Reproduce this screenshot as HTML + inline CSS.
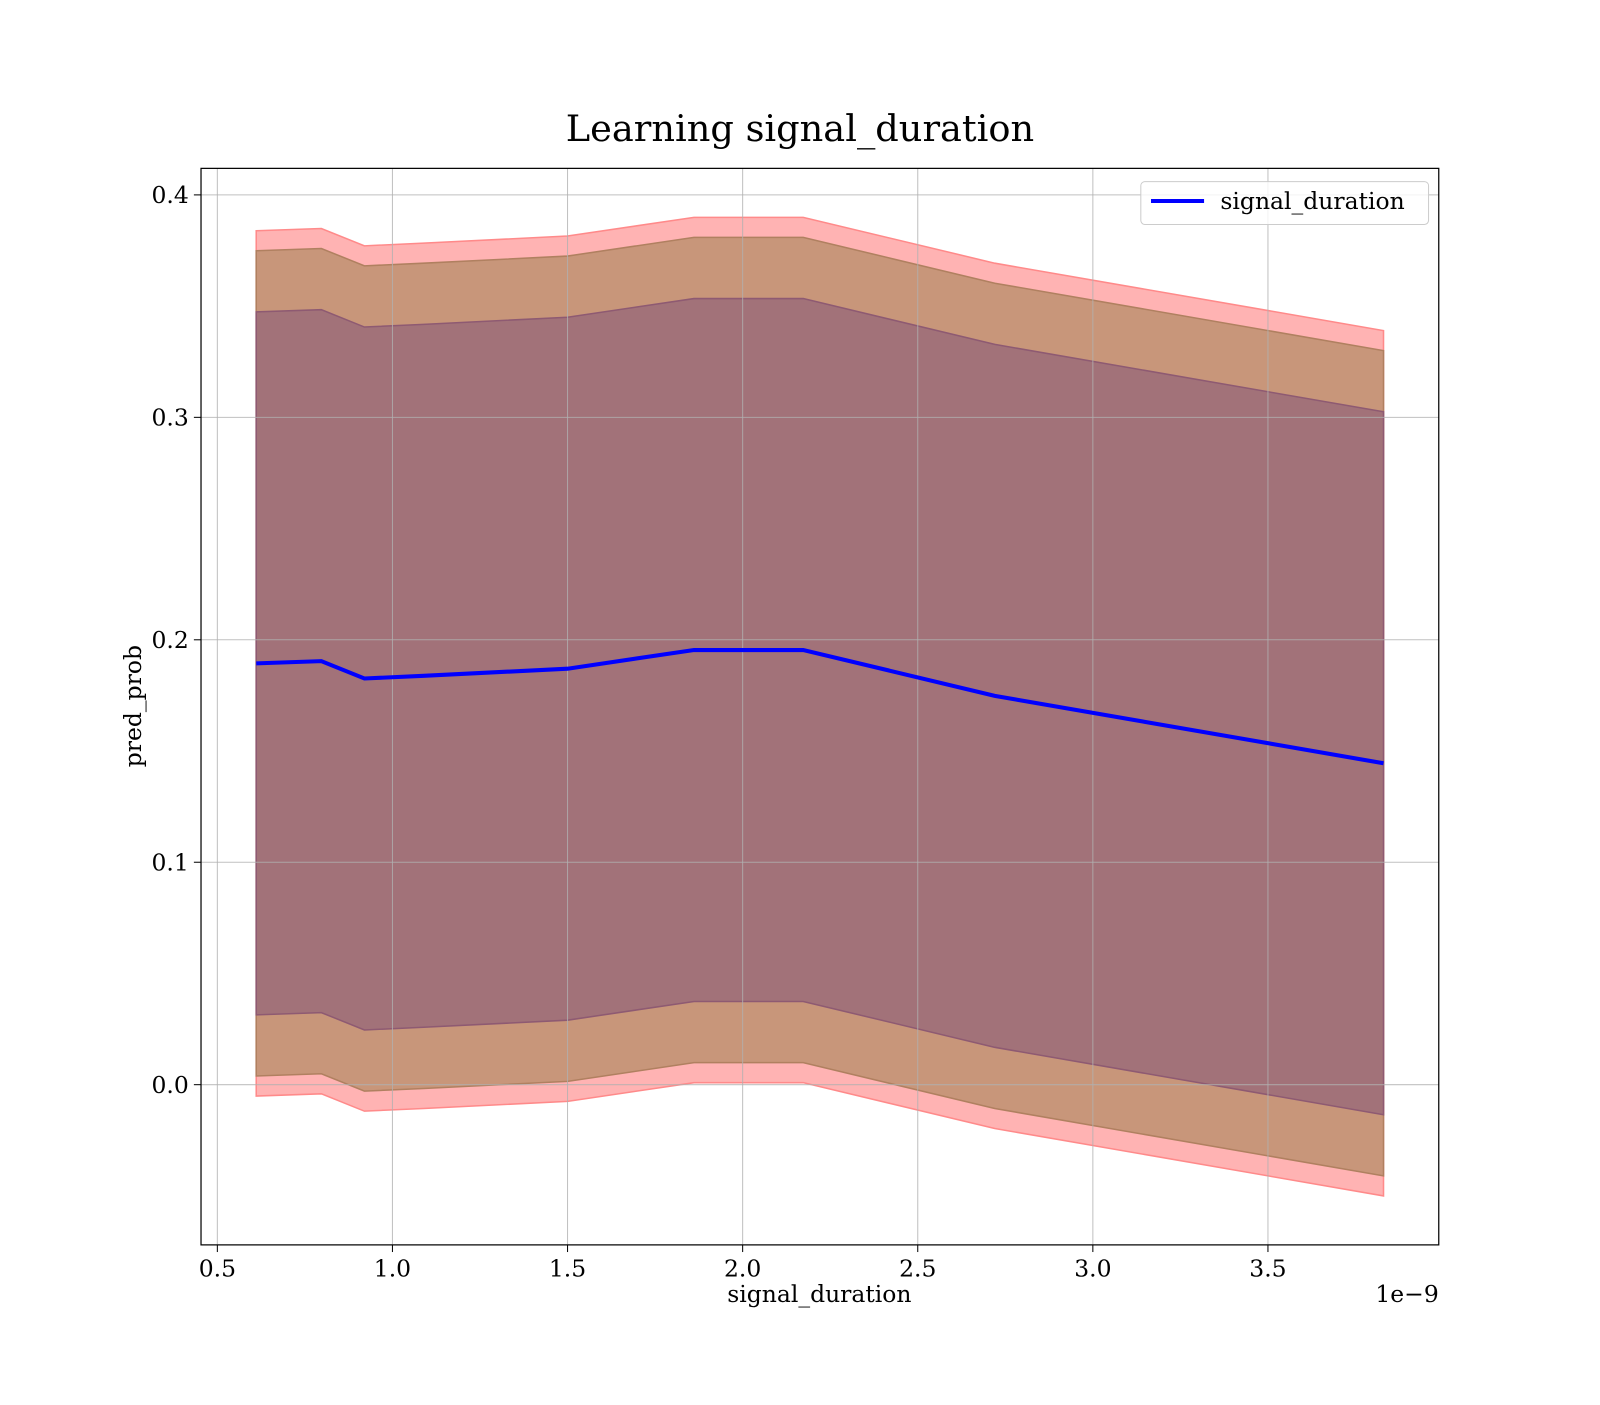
<!DOCTYPE html>
<html><head><meta charset="utf-8"><style>
body{margin:0;background:#fff;}
svg text{font-family:"DejaVu Serif","Liberation Serif",serif;fill:#000;}
</style></head><body>
<svg id="chart" width="1600" height="1400" xmlns="http://www.w3.org/2000/svg">
<g transform="scale(1.0204)">
<text x="784" y="138" font-size="36" text-anchor="middle">Learning signal_duration</text>
<g id="plot"></g>
</g>
</svg>
<script>
const xs = [0.611, 0.797, 0.920, 1.089, 1.50, 1.861, 2.173, 2.72, 3.83];
const means = [0.1894, 0.1904, 0.1826, 0.1838, 0.187, 0.1954, 0.1954, 0.1748, 0.1445];
const bandHalf = [0.1945, 0.1855, 0.158];
const xTicks = [0.5, 1.0, 1.5, 2.0, 2.5, 3.0, 3.5];
const yTicks = [0.0, 0.1, 0.2, 0.3, 0.4];

const L=197,R=1410,T=165,B=1220;
const X=v=>213+(v-0.5)*343.2;
const Y=v=>1063-v*2180;
const NS="http://www.w3.org/2000/svg";
const g=document.getElementById('plot');
function mk(t,a){const e=document.createElementNS(NS,t);for(const k in a)e.setAttribute(k,a[k]);g.appendChild(e);return e;}

const fills=[['#ffb3b3','#ff8a8a','outer-band'],['#c8967a','#b08060','middle-band'],['#a27279','#8e5a72','inner-band']];
bandHalf.forEach((h,i)=>{
  let pts=xs.map((x,j)=>X(x)+','+Y(means[j]+h));
  pts=pts.concat(xs.slice().reverse().map((x,j)=>X(x)+','+Y(means[xs.length-1-j]-h)));
  const p=mk('polygon',{points:pts.join(' '),fill:fills[i][0],stroke:fills[i][1],'stroke-width':1.5});
  
  
});
xTicks.forEach(t=>{
  const l=mk('line',{x1:X(t),x2:X(t),y1:T,y2:B,stroke:'#b0b0b0','stroke-width':1,'stroke-opacity':0.8});
  
  
  mk('line',{x1:X(t),x2:X(t),y1:B,y2:B+7,stroke:'#000'});
  const tx=mk('text',{x:X(t),y:B+31,'font-size':23,'text-anchor':'middle'});
  tx.textContent=t.toFixed(1);
  
  
});
yTicks.forEach(t=>{
  const l=mk('line',{x1:L,x2:R,y1:Y(t),y2:Y(t),stroke:'#b0b0b0','stroke-width':1,'stroke-opacity':0.8});
  
  
  mk('line',{x1:L-7,x2:L,y1:Y(t),y2:Y(t),stroke:'#000'});
  const tx=mk('text',{x:L-12,y:Y(t)+8,'font-size':23,'text-anchor':'end'});
  tx.textContent=t.toFixed(1);
  
  
});
const ml=mk('polyline',{points:xs.map((x,j)=>X(x)+','+Y(means[j])).join(' '),fill:'none',stroke:'#0000ff','stroke-width':4});


const fr=mk('rect',{x:L,y:T,width:R-L,height:B-T,fill:'none',stroke:'#000','stroke-width':1.2});


const lg=mk('rect',{x:1118,y:178,width:282,height:42,rx:4,fill:'#fff','fill-opacity':0.8,stroke:'#ccc'});


mk('line',{x1:1128,x2:1180,y1:197,y2:197,stroke:'#0000ff','stroke-width':4});
const lt=mk('text',{x:1196,y:205,'font-size':23});
lt.textContent='signal_duration';


const xl=mk('text',{x:803,y:1276,'font-size':23,'text-anchor':'middle'});
xl.textContent='signal_duration';


const off=mk('text',{x:1410,y:1276,'font-size':23,'text-anchor':'end'});
off.textContent='1e\u22129';


const yl=mk('text',{x:0,y:0,'font-size':23,'text-anchor':'middle',transform:'translate(138,692) rotate(-90)'});
yl.textContent='pred_prob';


</script>
</body></html>
